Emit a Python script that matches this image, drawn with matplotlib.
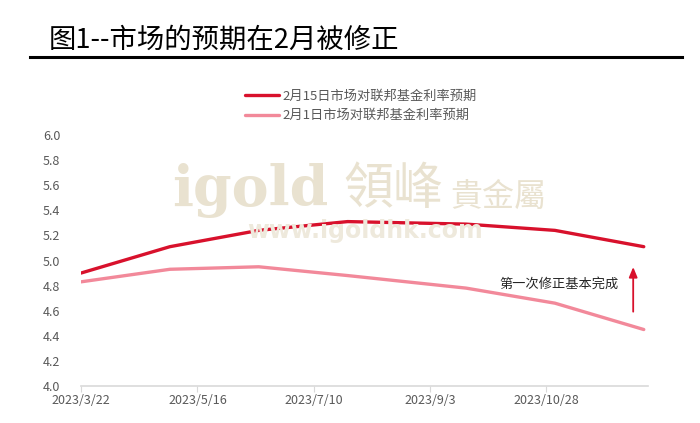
import matplotlib
matplotlib.use("Agg")
import matplotlib.pyplot as plt
import pandas as pd

plt.rcParams['font.family'] = ['Noto Sans CJK SC', 'DejaVu Sans']

# 数据：FOMC会议日期及对应的利率预期
fechas = pd.to_datetime(['2023-03-22', '2023-05-03', '2023-06-14', '2023-07-26',
                         '2023-09-20', '2023-11-01', '2023-12-13'])
expectativa_feb15 = [4.90, 5.11, 5.24, 5.31, 5.29, 5.24, 5.11]
expectativa_feb01 = [4.83, 4.93, 4.95, 4.88, 4.78, 4.66, 4.45]
etiquetas_x = ['2023/3/22', '2023/5/16', '2023/7/10', '2023/9/3', '2023/10/28']
ticks_x = pd.to_datetime(['2023-03-22', '2023-05-16', '2023-07-10', '2023-09-03', '2023-10-28'])
ticks_y = [4.0, 4.2, 4.4, 4.6, 4.8, 5.0, 5.2, 5.4, 5.6, 5.8, 6.0]

rojo = '#d8112c'
rosa = '#f2899a'
gris = '#595959'

fig = plt.figure(figsize=(7, 4.23), dpi=100)
ax = fig.add_axes([81 / 700, 1 - 386 / 423, (648 - 81) / 700, (386 - 135) / 423])

# Título y línea
fig.text(49 / 700, 1 - 40 / 423, '图1--市场的预期在2月被修正', fontsize=19.7,
         ha='left', va='center', color='black')
fig.add_artist(plt.Line2D([30 / 700, 682 / 700], [1 - 57 / 423, 1 - 57 / 423],
                          color='black', linewidth=2.2))

# Marca de agua
fig.text(172 / 700, 1 - 190 / 423, 'igold', fontsize=40, fontweight='bold',
         family='DejaVu Serif', color='#e9e2d0', ha='left', va='center', zorder=0)
fig.text(343 / 700, 1 - 190 / 423, '領峰', fontsize=36, family='Noto Sans CJK TC',
         color='#e9e2d0', ha='left', va='center', zorder=0)
fig.text(450 / 700, 1 - 197 / 423, '貴金屬', fontsize=23, family='Noto Sans CJK TC',
         color='#e9e2d0', ha='left', va='center', zorder=0)
fig.text(365 / 700, 1 - 231 / 423, 'www.igoldhk.com', fontsize=17, fontweight='bold',
         family='DejaVu Sans', color='#eee9dc', ha='center', va='center', zorder=0)
ax.patch.set_alpha(0)

ax.plot(fechas, expectativa_feb15, color=rojo, linewidth=2.4,
        label='2月15日市场对联邦基金利率预期', solid_capstyle='round')
ax.plot(fechas, expectativa_feb01, color=rosa, linewidth=2.4,
        label='2月1日市场对联邦基金利率预期', solid_capstyle='round')

ax.set_ylim(4.0, 6.0)
ax.set_yticks(ticks_y)
ax.set_yticklabels([f'{v:.1f}' for v in ticks_y])
ax.set_xlim(pd.Timestamp('2023-03-22'), pd.Timestamp('2023-12-15'))
ax.set_xticks(ticks_x)
ax.set_xticklabels(etiquetas_x)

for lado in ['top', 'right', 'left']:
    ax.spines[lado].set_visible(False)
ax.spines['bottom'].set_color('#d9d9d9')
ax.spines['bottom'].set_linewidth(1.2)
ax.tick_params(axis='y', length=0, labelsize=9, labelcolor=gris, pad=15)
ax.tick_params(axis='x', length=4, color='#d9d9d9', labelsize=9, labelcolor=gris, pad=2)

# Anotación
ax.annotate('', xy=(pd.Timestamp('2023-12-08'), 4.97), xytext=(pd.Timestamp('2023-12-08'), 4.57),
            arrowprops=dict(arrowstyle='-|>,head_width=0.25,head_length=0.6', color=rojo, lw=1.3))
ax.text(pd.Timestamp('2023-12-01'), 4.81, '第一次修正基本完成', fontsize=9.5,
        ha='right', va='center', color='#262626')

leg = fig.legend(loc='upper left', bbox_to_anchor=(238 / 700, 1 - 83 / 423), frameon=False,
                 fontsize=9.5, handlelength=2.6, handletextpad=0.3, labelspacing=0.5,
                 borderpad=0)
for t in leg.get_texts():
    t.set_color(gris)

fig.savefig('out.png', dpi=100)
